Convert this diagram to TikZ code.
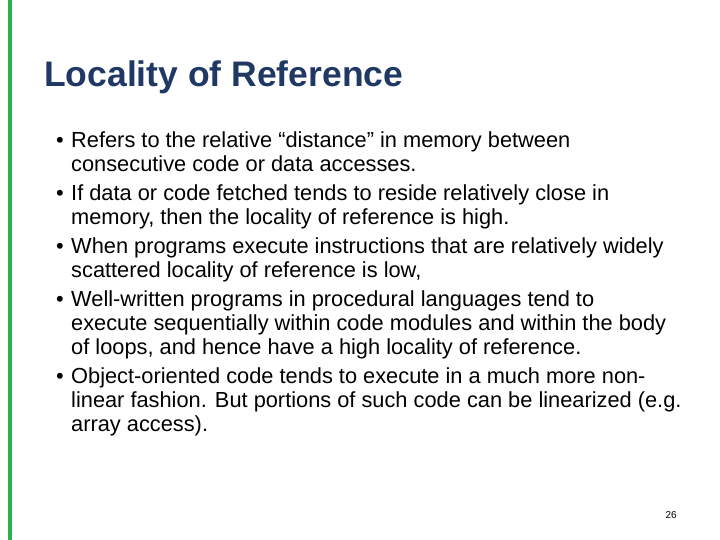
\documentclass[tikz,border=0pt]{standalone}
\usepackage{fontspec}
\setmainfont{Liberation Sans}
\definecolor{gbar}{HTML}{2DB24A}
\definecolor{ttl}{HTML}{1F3864}
\begin{document}
\begin{tikzpicture}[x=1pt,y=-1pt,
 ln/.style={anchor=base west,inner sep=0pt,font=\fontsize{21.8}{24}\selectfont}]
\useasboundingbox[fill=white] (0,0) rectangle (720,540);
\fill[gbar] (8,0) rectangle (12,540);
\node[anchor=base west,inner sep=0pt,text=ttl,font=\fontsize{35.5}{38}\selectfont\bfseries] (t) at (44,87) {Locality of Reference};
\foreach \y/\b/\t [count=\i] in {
148/1/{Refers to the relative “distance” in memory between},
172/0/{consecutive code or data accesses.},
201/1/{If data or code fetched tends to reside relatively close in},
225/0/{memory, then the locality of reference is high.},
253/1/{When programs execute instructions that are relatively widely},
277/0/{scattered locality of reference is low,},
306/1/{Well-written programs in procedural languages tend to},
330/0/{execute sequentially within code modules and within the body},
354/0/{of loops, and hence have a high locality of reference.},
383/1/{Object-oriented code tends to execute in a much more non-},
407/0/{linear fashion. But portions of such code can be linearized (e.g.},
431/0/{array access).}}{
 \node[ln] (l\i) at (71,\y) {\t};
 \ifnum\b=1 \node[ln] (b\i) at (56,\y) {•};\fi
}
\node[anchor=base east,inner sep=0pt,font=\fontsize{10}{12}\selectfont] (pg) at (677,518) {26};
\end{tikzpicture}
\end{document}
